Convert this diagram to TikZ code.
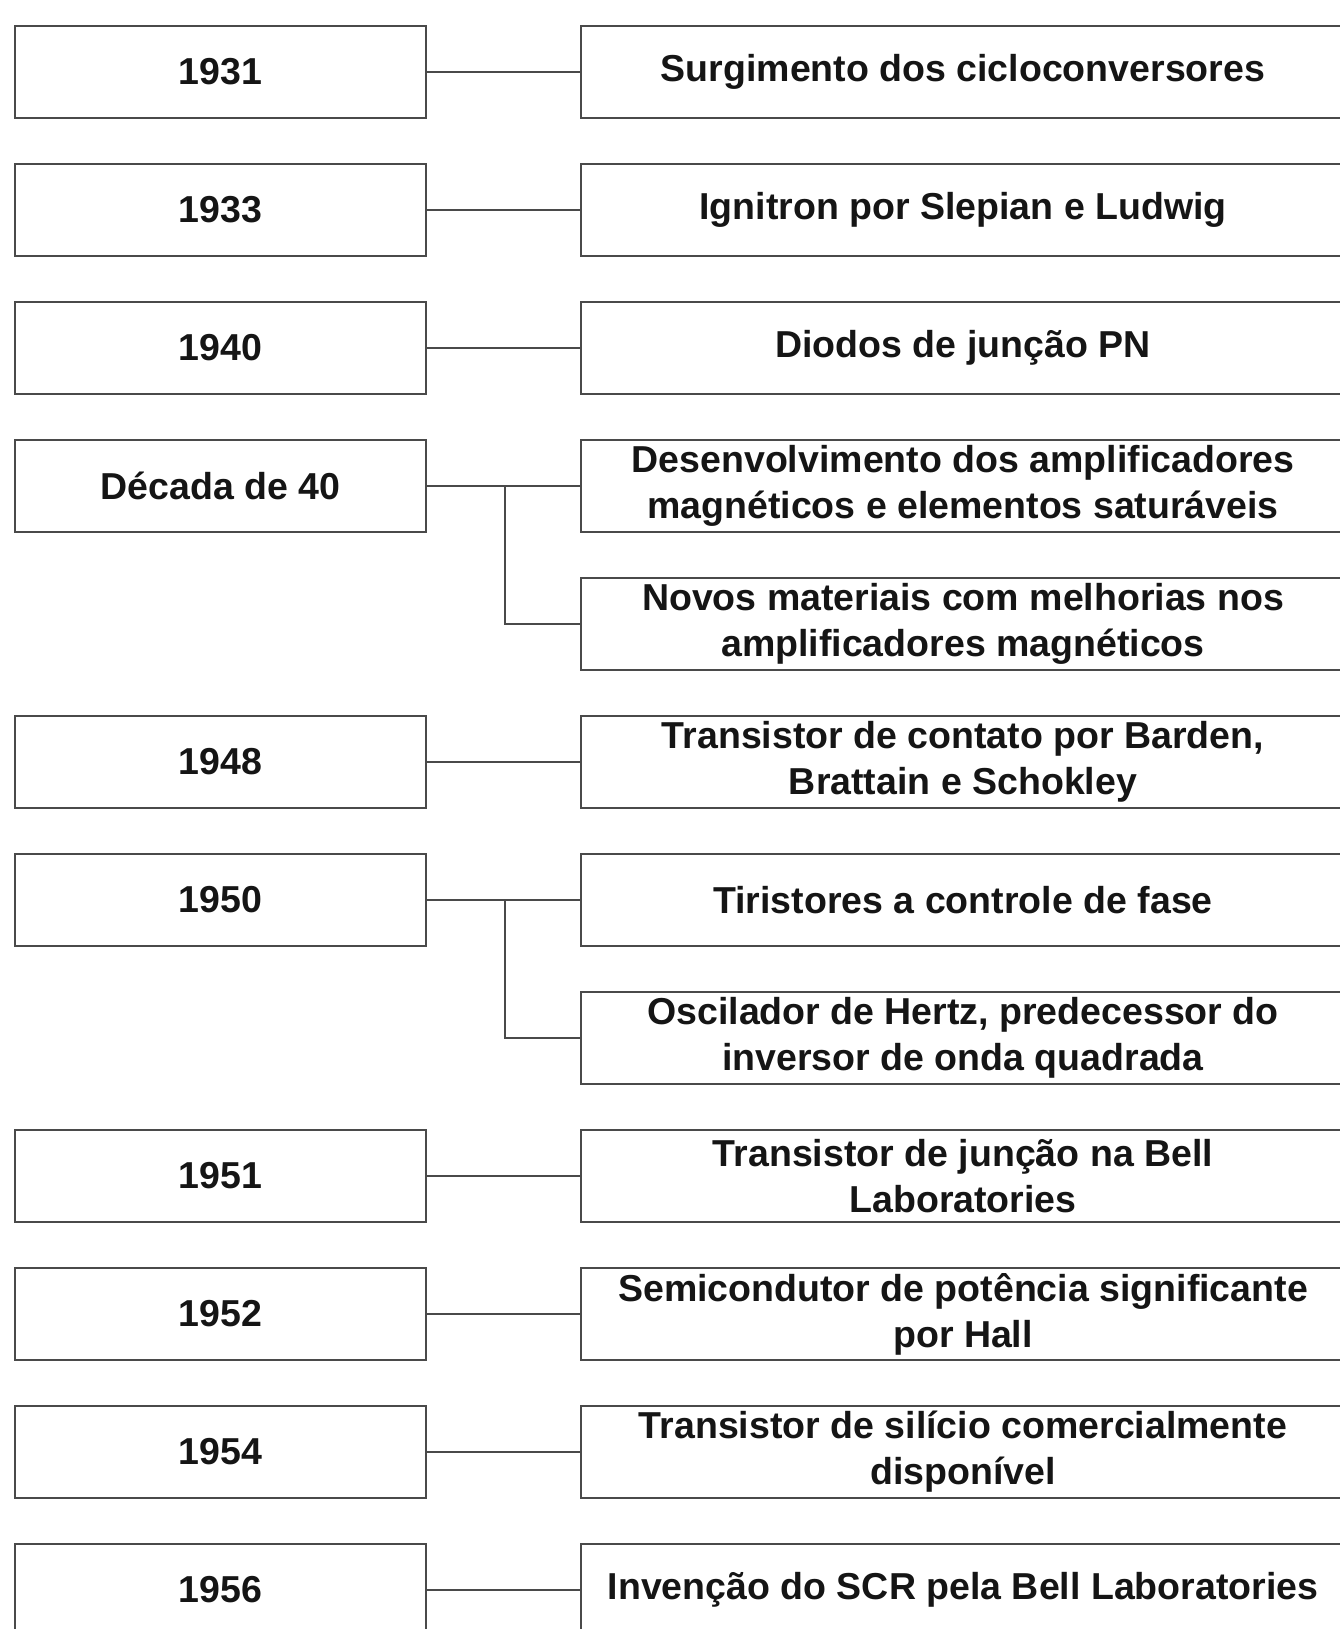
\documentclass[tikz,border=0pt]{standalone}
\usepackage{fontspec}
\setmainfont{Liberation Sans}
\definecolor{linha}{HTML}{4A4A4A}
\definecolor{texto}{HTML}{151515}

\begin{document}
\begin{tikzpicture}[x=1pt, y=-1pt,
    ano/.style={draw=linha, line width=2.6pt, fill=white, minimum width=411pt, minimum height=92pt,
        inner sep=0pt, text=texto, font=\fontsize{37.5}{46}\selectfont\bfseries},
    evento/.style={ano, minimum width=764pt, align=center},
    liga/.style={draw=linha, line width=2.3pt}]
    % Moldura da pagina
    \useasboundingbox (0,0) rectangle (1340,1629);
    \fill[white] (0,0) rectangle (1340,1629);
    \clip (0,0) rectangle (1340,1629);

    % Coluna dos anos
    \node[ano] (a1931) at (220.5,72) {1931};
    \node[ano] (a1933) at (220.5,210) {1933};
    \node[ano] (a1940) at (220.5,348) {1940};
    \node[ano] (a40) at (220.5,486) {Década de 40};
    \node[ano] (a1948) at (220.5,762) {1948};
    \node[ano] (a1950) at (220.5,900) {1950};
    \node[ano] (a1951) at (220.5,1176) {1951};
    \node[ano] (a1952) at (220.5,1314) {1952};
    \node[ano] (a1954) at (220.5,1452) {1954};
    \node[ano] (a1956) at (220.5,1590) {1956};

    % Coluna dos eventos
    \node[evento] (e1931) at (963,72) {Surgimento dos cicloconversores};
    \node[evento] (e1933) at (963,210) {Ignitron por Slepian e Ludwig};
    \node[evento] (e1940) at (963,348) {Diodos de junção PN};
    \node[evento] (e40a) at (963,486) {Desenvolvimento dos amplificadores\\magnéticos e elementos saturáveis};
    \node[evento] (e40b) at (963,624) {Novos materiais com melhorias nos\\amplificadores magnéticos};
    \node[evento] (e1948) at (963,762) {Transistor de contato por Barden,\\Brattain e Schokley};
    \node[evento] (e1950a) at (963,900) {Tiristores a controle de fase};
    \node[evento] (e1950b) at (963,1038) {Oscilador de Hertz, predecessor do\\inversor de onda quadrada};
    \node[evento] (e1951) at (963,1176) {Transistor de junção na Bell\\Laboratories};
    \node[evento] (e1952) at (963,1314) {Semicondutor de potência significante\\por Hall};
    \node[evento] (e1954) at (963,1452) {Transistor de silício comercialmente\\disponível};
    \node[evento] (e1956) at (963,1590) {Invenção do SCR pela Bell Laboratories};

    % Ligacoes simples
    \draw[liga] (a1931) -- (e1931);
    \draw[liga] (a1933) -- (e1933);
    \draw[liga] (a1940) -- (e1940);
    \draw[liga] (a40) -- (e40a);
    \draw[liga] (a1948) -- (e1948);
    \draw[liga] (a1950) -- (e1950a);
    \draw[liga] (a1951) -- (e1951);
    \draw[liga] (a1952) -- (e1952);
    \draw[liga] (a1954) -- (e1954);
    \draw[liga] (a1956) -- (e1956);

    % Ramificacoes
    \coordinate (r40) at (505,486);
    \coordinate (r1950) at (505,900);
    \draw[liga] (r40) |- (e40b.west);
    \draw[liga] (r1950) |- (e1950b.west);
\end{tikzpicture}
\end{document}
